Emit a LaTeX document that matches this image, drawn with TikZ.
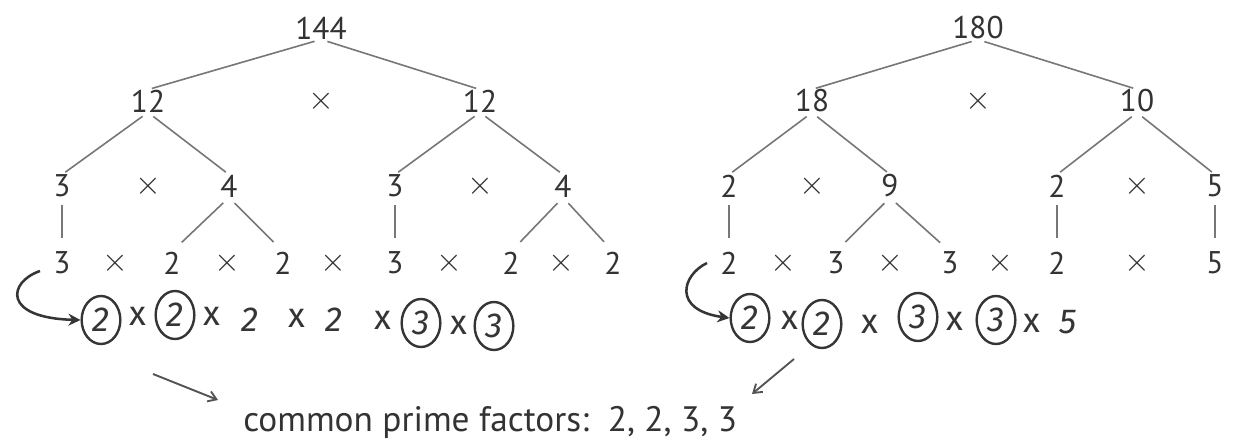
\documentclass[tikz,border=0pt]{standalone}
\usepackage{fontspec}
\setmainfont{PT Sans}
\newfontfamily\handfont{Fira Sans}
\usetikzlibrary{shapes.geometric,arrows.meta}
\definecolor{ink}{HTML}{333333}
\definecolor{branch}{HTML}{777777}
\definecolor{pen}{HTML}{353535}
\tikzset{
  num/.style={inner sep=0pt, text=ink, font=\fontsize{23.5}{26}\selectfont},
  times/.style={inner sep=0pt, text=ink, font=\fontsize{25}{28}\selectfont},
  branchline/.style={draw=branch, line width=1.2pt, shorten <=5pt, shorten >=3pt},
  stemline/.style={draw=branch, line width=1.2pt, shorten <=6pt, shorten >=10pt},
  hand/.style={inner sep=0pt, text=pen, font=\handfont\itshape\fontsize{26}{28}\selectfont},
  handx/.style={inner sep=0pt, text=pen, font=\handfont\fontsize{26}{28}\selectfont},
  ring/.style={ellipse, draw=pen, line width=1.8pt, minimum width=29pt, minimum height=36pt, inner sep=0pt, text=pen, font=\handfont\itshape\fontsize{26}{28}\selectfont},
  penarrow/.style={draw=pen, line width=1.9pt, -{Stealth[length=9pt,width=9pt]}},
  sketcharrow/.style={draw=pen!85, line width=1.4pt, -{Straight Barb[length=6pt,width=8pt]}}
}
\begin{document}
\begin{tikzpicture}[x=0.75pt,y=-0.75pt]
\useasboundingbox (0,0) rectangle (1237,442);
\fill[white] (0,0) rectangle (1237,442);

% ---- factor tree of 144 ----
\node[num] (L0) at (321,28) {144};
\node[num] (L1) at (148,101) {12};
\node[times] at (321,101) {$\times$};
\node[num] (L2) at (480,101) {12};
\node[num] (L11) at (62,186) {3};
\node[times] at (148,186) {$\times$};
\node[num] (L12) at (229,186) {4};
\node[num] (L21) at (395,186) {3};
\node[times] at (480,186) {$\times$};
\node[num] (L22) at (563,186) {4};
\node[num] (a1) at (62,263) {3};
\node[times] at (115,263) {$\times$};
\node[num] (a2) at (172,263) {2};
\node[times] at (227,263) {$\times$};
\node[num] (a3) at (283,263) {2};
\node[times] at (333,263) {$\times$};
\node[num] (a4) at (395,263) {3};
\node[times] at (449,263) {$\times$};
\node[num] (a5) at (511,263) {2};
\node[times] at (561,263) {$\times$};
\node[num] (a6) at (613,263) {2};

\draw[branchline] (L0.south) -- (L1.north);
\draw[branchline] (L0.south) -- (L2.north);
\draw[branchline] (L1.south) -- (L11.north);
\draw[branchline] (L1.south) -- (L12.north);
\draw[branchline] (L2.south) -- (L21.north);
\draw[branchline] (L2.south) -- (L22.north);
\draw[stemline] (L11.south) -- (a1.north);
\draw[stemline] (L21.south) -- (a4.north);
\draw[stemline] (L12.south) -- (a2.north);
\draw[stemline] (L12.south) -- (a3.north);
\draw[stemline] (L22.south) -- (a5.north);
\draw[stemline] (L22.south) -- (a6.north);

% ---- factor tree of 180 ----
\node[num] (R0) at (978,28) {180};
\node[num] (R1) at (812,101) {18};
\node[times] at (978,101) {$\times$};
\node[num] (R2) at (1137,101) {10};
\node[num] (R11) at (729,186) {2};
\node[times] at (812,186) {$\times$};
\node[num] (R12) at (890,186) {9};
\node[num] (R21) at (1057,186) {2};
\node[times] at (1137,186) {$\times$};
\node[num] (R22) at (1215,186) {5};
\node[num] (b1) at (729,263) {2};
\node[times] at (783,263) {$\times$};
\node[num] (b2) at (836,263) {3};
\node[times] at (890,263) {$\times$};
\node[num] (b3) at (950,263) {3};
\node[times] at (1000,263) {$\times$};
\node[num] (b4) at (1057,263) {2};
\node[times] at (1137,263) {$\times$};
\node[num] (b5) at (1215,263) {5};

\draw[branchline] (R0.south) -- (R1.north);
\draw[branchline] (R0.south) -- (R2.north);
\draw[branchline] (R1.south) -- (R11.north);
\draw[branchline] (R1.south) -- (R12.north);
\draw[branchline] (R2.south) -- (R21.north);
\draw[branchline] (R2.south) -- (R22.north);
\draw[stemline] (R11.south) -- (b1.north);
\draw[stemline] (R21.south) -- (b4.north);
\draw[stemline] (R22.south) -- (b5.north);
\draw[stemline] (R12.south) -- (b2.north);
\draw[stemline] (R12.south) -- (b3.north);

% ---- handwritten regrouping, left ----
\node[ring] (p1) at (101,320) {2};
\node[handx] at (138,316) {x};
\node[ring] (p2) at (175,315) {2};
\node[handx] at (212,316) {x};
\node[hand] (p3) at (250,320) {2};
\node[handx] at (297,318) {x};
\node[hand] (p4) at (334,320) {2};
\node[handx] at (383,320) {x};
\node[ring] (p5) at (421,323) {3};
\node[handx] at (459,325) {x};
\node[ring] (p6) at (494,326) {3};
\coordinate (ls) at (40,271);
\draw[penarrow] (ls) .. controls (8,282) and (2,318) .. (p1.west);

% ---- handwritten regrouping, right ----
\node[ring] (q1) at (750,318) {2};
\node[handx] at (790,320) {x};
\node[ring] (q2) at (822,324) {2};
\node[handx] at (870,324) {x};
\node[ring] (q3) at (918,317) {3};
\node[handx] at (955,321) {x};
\node[ring] (q4) at (996,320) {3};
\node[handx] at (1032,323) {x};
\node[hand] (q5) at (1068,322) {5};
\coordinate (rs) at (707,263);
\draw[penarrow] (rs) .. controls (682,275) and (672,310) .. (q1.west);

% ---- conclusion ----
\node[inner sep=0pt, text=ink, font=\fontsize{26.5}{30}\selectfont, anchor=base west] (c) at (243,431) {common prime factors:\ \ 2, 2, 3, 3};
\coordinate (lt) at (153,374);
\coordinate (rt) at (794,359);
\draw[sketcharrow] (lt) -- (218,400);
\draw[sketcharrow] (rt) -- (752,394);
\end{tikzpicture}
\end{document}
